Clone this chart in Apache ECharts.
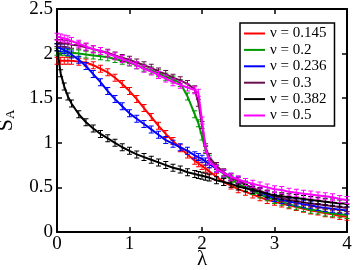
<!DOCTYPE html>
<html>
<head>
<meta charset="utf-8">
<script src="https://cdn.jsdelivr.net/npm/echarts@6/dist/echarts.min.js"></script>
<style>
  html, body { margin: 0; padding: 0; background: #fff; }
  #main { width: 353px; height: 270px; }
</style>
</head>
<body>
<div id="main"></div>
<script>
// lambda values (x)
var lam = [0, 0.05, 0.1, 0.15, 0.2, 0.3, 0.4, 0.5, 0.6, 0.7, 0.8, 0.9, 1.0, 1.1, 1.2, 1.3, 1.4, 1.5, 1.6, 1.7, 1.8, 1.9, 1.95, 2.0, 2.05,
           2.1, 2.2, 2.3, 2.4, 2.5, 2.6, 2.7, 2.8, 2.9, 3.0, 3.1, 3.2, 3.3, 3.4, 3.5, 3.6, 3.7, 3.8, 3.9, 4.0];

// S_A for each nu
var s0145 = [1.92, 1.92, 1.92, 1.92, 1.92, 1.91, 1.90, 1.87, 1.83, 1.79, 1.73, 1.66, 1.58, 1.49, 1.39, 1.29, 1.19, 1.10, 1.02, 0.94, 0.87, 0.80, 0.77, 0.74, 0.71,
             0.68, 0.62, 0.56, 0.52, 0.48, 0.45, 0.42, 0.39, 0.36, 0.34, 0.32, 0.30, 0.28, 0.26, 0.24, 0.23, 0.21, 0.20, 0.18, 0.17];
var s02   = [2.02, 2.02, 2.02, 2.01, 2.01, 2.00, 1.99, 1.98, 1.97, 1.96, 1.94, 1.92, 1.90, 1.87, 1.84, 1.81, 1.78, 1.74, 1.71, 1.67, 1.52, 1.32, 1.22, 1.07, 0.92,
             0.82, 0.72, 0.65, 0.59, 0.54, 0.50, 0.46, 0.42, 0.39, 0.36, 0.34, 0.31, 0.29, 0.27, 0.25, 0.24, 0.22, 0.21, 0.20, 0.19];
var s0236 = [2.07, 2.06, 2.04, 2.02, 1.99, 1.93, 1.86, 1.77, 1.68, 1.58, 1.49, 1.41, 1.33, 1.27, 1.21, 1.15, 1.09, 1.03, 0.99, 0.95, 0.91, 0.86, 0.84, 0.82, 0.79,
             0.76, 0.71, 0.66, 0.62, 0.58, 0.53, 0.49, 0.45, 0.41, 0.38, 0.36, 0.34, 0.33, 0.31, 0.30, 0.28, 0.27, 0.26, 0.25, 0.24];
var s03   = [2.12, 2.12, 2.11, 2.11, 2.10, 2.09, 2.07, 2.05, 2.03, 2.01, 1.98, 1.95, 1.93, 1.90, 1.87, 1.84, 1.80, 1.77, 1.73, 1.70, 1.66, 1.60, 1.45, 1.20, 0.95,
             0.84, 0.74, 0.67, 0.61, 0.57, 0.53, 0.49, 0.46, 0.43, 0.40, 0.38, 0.36, 0.35, 0.33, 0.32, 0.31, 0.30, 0.29, 0.28, 0.27];
var s0382 = [2.07, 1.78, 1.63, 1.52, 1.44, 1.32, 1.23, 1.16, 1.10, 1.05, 1.00, 0.95, 0.91, 0.87, 0.84, 0.81, 0.78, 0.75, 0.72, 0.70, 0.67, 0.65, 0.64, 0.63, 0.62,
             0.61, 0.58, 0.56, 0.54, 0.51, 0.49, 0.47, 0.45, 0.43, 0.41, 0.40, 0.39, 0.38, 0.37, 0.36, 0.35, 0.34, 0.33, 0.32, 0.32];
var s05   = [2.19, 2.18, 2.17, 2.16, 2.14, 2.11, 2.08, 2.05, 2.03, 2.00, 1.97, 1.94, 1.91, 1.87, 1.83, 1.80, 1.76, 1.72, 1.68, 1.65, 1.62, 1.59, 1.56, 1.25, 0.93,
             0.80, 0.71, 0.66, 0.62, 0.59, 0.56, 0.54, 0.52, 0.50, 0.48, 0.47, 0.45, 0.44, 0.43, 0.42, 0.41, 0.40, 0.39, 0.37, 0.36];

var names = ['ν = 0.145', 'ν = 0.2', 'ν = 0.236', 'ν = 0.3', 'ν = 0.382', 'ν = 0.5'];
var values = [s0145, s02, s0236, s03, s0382, s05];
var colors = ['#ff0000', '#009900', '#0000ff', '#6b0f4f', '#000000', '#ff00ff'];

var xTicks = [0, 4, 1];      // min, max, interval
var yTicks = [0, 2.5, 0.5];

var serif = 'Liberation Serif, Times New Roman, serif';
// error-bar looking marker
var ibeam = 'path://M0,0H5V1H3V7H5V8H0V7H2V1H0Z';

function pairs(ys) {
    return lam.map(function (x, i) { return [x, ys[i]]; });
}

var series = [];
for (var i = 0; i < names.length; i++) {
    series.push({
        name: names[i],
        type: 'line',
        data: pairs(values[i]),
        symbol: 'none',
        lineStyle: { color: colors[i], width: 2 },
        itemStyle: { color: colors[i] },
        z: 2 + i
    });
    series.push({
        name: names[i] + ' err',
        type: 'line',
        data: pairs(values[i]),
        symbol: ibeam,
        symbolSize: [5, 8],
        lineStyle: { width: 0, opacity: 0 },
        itemStyle: { color: colors[i] },
        z: 2 + i
    });
}

function axisCommon(extra) {
    var a = {
        type: 'value',
        axisLine: { show: true, onZero: false, lineStyle: { color: '#000', width: 2 } },
        axisTick: { show: true, inside: true, length: 5, lineStyle: { color: '#000', width: 1.5 } },
        splitLine: { show: false }
    };
    for (var k in extra) a[k] = extra[k];
    return a;
}

var myChart = echarts.init(document.getElementById('main'));
var option = {
    animation: false,
    backgroundColor: '#fff',
    grid: { left: 57, right: 6, top: 9, bottom: 38, containLabel: false, outerBoundsMode: 'none' },
    legend: {
        data: names,
        orient: 'vertical',
        left: 240,
        top: 23,
        padding: [3, 8, 3, 4],
        icon: 'rect',
        itemWidth: 21,
        itemHeight: 2,
        itemGap: 1.4,
        itemTextGap: 7,
        backgroundColor: '#fff',
        borderColor: '#000',
        borderWidth: 1.5,
        borderRadius: 0,
        textStyle: { fontFamily: serif, fontSize: 15, lineHeight: 13, color: '#000' }
    },
    xAxis: [
        axisCommon({
            min: xTicks[0], max: xTicks[1], interval: xTicks[2],
            position: 'bottom',
            axisLabel: { fontFamily: serif, fontSize: 19, color: '#000', margin: 3 },
            name: 'λ', nameLocation: 'middle', nameGap: 17, nameMoveOverlap: false,
            nameTextStyle: { fontFamily: serif, fontSize: 21, color: '#000' }
        }),
        axisCommon({
            min: xTicks[0], max: xTicks[1], interval: xTicks[2],
            position: 'top',
            axisLabel: { show: false }
        })
    ],
    yAxis: [
        axisCommon({
            min: yTicks[0], max: yTicks[1], interval: yTicks[2],
            position: 'left',
            axisLabel: { fontFamily: serif, fontSize: 19, color: '#000', margin: 4 },
            name: '{s|S}{a|A}', nameLocation: 'middle', nameGap: 40, nameMoveOverlap: false,
            nameTextStyle: {
                rich: {
                    s: { fontFamily: serif, fontSize: 22, color: '#000', lineHeight: 22 },
                    a: { fontFamily: serif, fontSize: 13, color: '#000', lineHeight: 22, verticalAlign: 'bottom' }
                }
            }
        }),
        axisCommon({
            min: yTicks[0], max: yTicks[1], interval: yTicks[2],
            position: 'right',
            axisLabel: { show: false }
        })
    ],
    series: series
};
myChart.setOption(option);

window.onresize = function () {
    myChart.resize();
};
</script>
</body>
</html>
